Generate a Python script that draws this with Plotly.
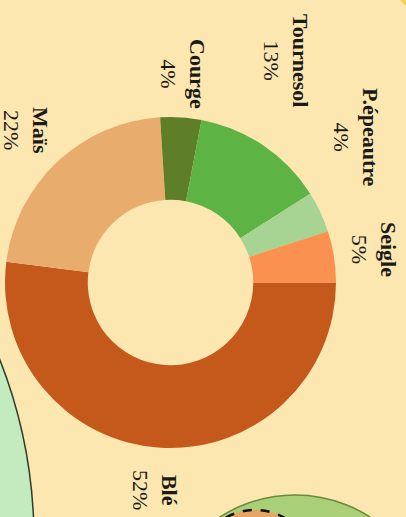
import plotly.graph_objects as go

# ── Data ────────────────────────────────────────────────────────────────
crops = ["Blé", "Maïs", "Courge", "Tournesol", "P.épeautre", "Seigle"]
shares = [52, 22, 4, 13, 4, 5]
colors = ["#C4591B", "#E8AD6D", "#5E7E27", "#5DB445", "#A7D393", "#FA9150"]

W, H = 406, 517
BG = "#FDE7B0"
INK = "#1B1A17"
SERIF = "Liberation Serif, Times New Roman, serif"


def px(x, y):
    """pixel position in the page -> paper coordinates"""
    return x / W, 1 - y / H


def circle(cx, cy, r, **kw):
    x0, y0 = px(cx - r, cy + r)
    x1, y1 = px(cx + r, cy - r)
    return dict(type="circle", xref="paper", yref="paper",
                x0=x0, y0=y0, x1=x1, y1=y1, layer="below", **kw)


fig = go.Figure()

# donut centred at (170.5, 282.5) px, outer radius 165.5 px
dx0, dy0 = px(5, 448)
dx1, dy1 = px(336, 117)
fig.add_trace(go.Pie(
    labels=crops, values=shares, hole=0.5, sort=False,
    direction="clockwise", rotation=90,
    marker=dict(colors=colors, line=dict(width=0)),
    textinfo="none", hoverinfo="label+percent",
    domain=dict(x=[dx0, dx1], y=[dy0, dy1]),
    showlegend=False,
))

# label positions (centre of each rotated label block, in px)
label_pos = {
    "Seigle": (374, 249),
    "P.épeautre": (356, 137),
    "Tournesol": (286, 60),
    "Courge": (183, 74),
    "Maïs": (26, 130),
    "Blé": (155, 490),
}
total = sum(shares)
for crop, val in zip(crops, shares):
    x, y = px(*label_pos[crop])
    fig.add_annotation(
        x=x, y=y, xref="paper", yref="paper",
        text=f"<b>{crop}</b><br>{round(100 * val / total)}%",
        textangle=90, showarrow=False, align="center",
        xanchor="center", yanchor="middle",
        font=dict(family=SERIF, size=22, color=INK),
    )

# background decorations
shapes = [
    circle(-459, 540, 493, fillcolor="#C4EBBF",
           line=dict(color="#2E3A2C", width=1.5)),
    circle(295, 634, 139, fillcolor="#A9CF78",
           line=dict(color="#6C8A3B", width=1.5)),
    circle(255, 570, 60, fillcolor="#E9A565",
           line=dict(color="#111111", width=2.5, dash="dash")),
    circle(425, -20, 32, fillcolor="#F4D24A", line=dict(width=0)),
]

fig.update_layout(
    width=W, height=H,
    margin=dict(l=0, r=0, t=0, b=0),
    paper_bgcolor=BG, plot_bgcolor=BG,
    shapes=shapes,
)

# drop the browser's default body margin so the figure fills the window
fig.write_html("out.html",
               config=dict(displayModeBar=False),
               post_script="document.body.style.margin='0';"
                           "document.body.style.overflow='hidden';")
